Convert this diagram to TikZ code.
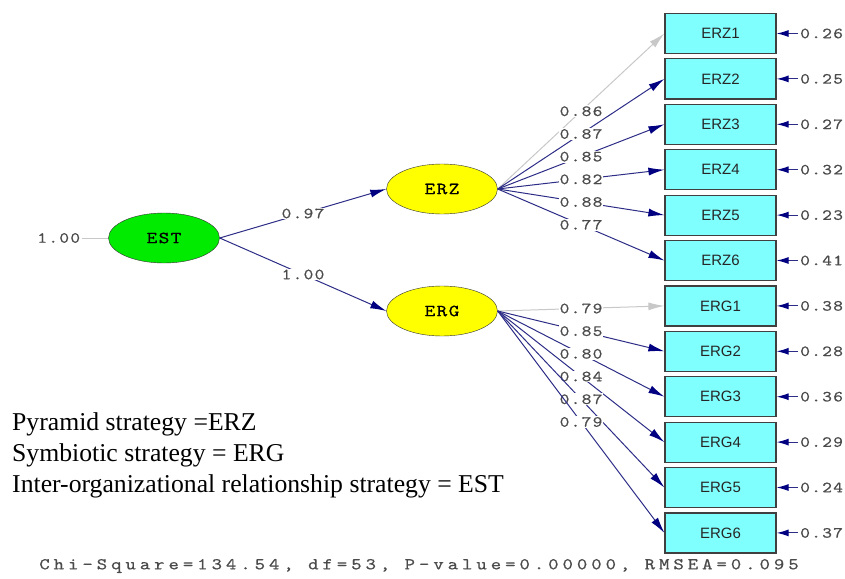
\documentclass[tikz,border=0pt]{standalone}
\usepackage{fontspec}
\setmainfont{Liberation Serif}
\setsansfont{Liberation Sans}
\newfontfamily\lisrel[FakeStretch=1.2,LetterSpace=8,FakeBold=0.6]{lmmono10-regular.otf}
\newfontfamily\lisrelwide[FakeStretch=1.2,LetterSpace=24,FakeBold=0.6]{lmmono10-regular.otf}
\usetikzlibrary{arrows.meta,shapes.geometric,positioning}

\definecolor{pathblue}{RGB}{45,45,135}
\definecolor{tipblue}{RGB}{0,0,128}
\definecolor{boxcyan}{RGB}{128,255,255}
\definecolor{latgreen}{RGB}{0,235,0}
\definecolor{latyellow}{RGB}{255,255,0}
\definecolor{fixgray}{RGB}{200,200,200}
\definecolor{numgray}{RGB}{75,75,75}

\begin{document}
\begin{tikzpicture}[
        x=1pt, y=-1pt,
        node distance=4.2pt and 21.4pt,
        latent/.style={ellipse, draw=black!80, minimum width=111pt, minimum height=50pt, inner sep=0pt, font=\lisrel\fontsize{17}{19}\selectfont},
        indicator/.style={rectangle, draw=black!75, line width=1.2pt, fill=boxcyan, minimum width=111pt, minimum height=40pt, inner sep=0pt, text=black!85, font=\sffamily\fontsize{15}{17}\selectfont},
        load/.style={draw=pathblue, line width=1pt, -{Latex[length=16pt,width=8pt,color=tipblue]}},
        fixed/.style={draw=fixgray, line width=1pt, -{Latex[length=16pt,width=8pt,color=fixgray]}},
        errpath/.style={draw=pathblue, line width=1.1pt, -{Latex[length=12pt,width=7pt,color=tipblue]}},
        coef/.style={fill=white, inner sep=1pt, text=numgray, font=\lisrel\fontsize{15.5}{17}\selectfont},
        err/.style={inner sep=2pt, text=numgray, font=\lisrel\fontsize{15.5}{17}\selectfont}
    ]
    \useasboundingbox (0,0) rectangle (845,578);

    % Latent variables
      \node[latent, fill=latgreen] (est) at (164,238) {EST};
      \node[latent, fill=latyellow] (erz) at (442,189) {ERZ};
      \node[latent, fill=latyellow] (erg) at (442,311) {ERG};
      \node[err, left=26pt of est] (estvar) {1.00};

    % Indicators
      \node[indicator] (z1) at (720.5,33.5) {ERZ1};
      \node[indicator, below=of z1] (z2) {ERZ2};
      \node[indicator, below=of z2] (z3) {ERZ3};
      \node[indicator, below=of z3] (z4) {ERZ4};
      \node[indicator, below=of z4] (z5) {ERZ5};
      \node[indicator, below=of z5] (z6) {ERZ6};
      \node[indicator, below=of z6] (g1) {ERG1};
      \node[indicator, below=of g1] (g2) {ERG2};
      \node[indicator, below=of g2] (g3) {ERG3};
      \node[indicator, below=of g3] (g4) {ERG4};
      \node[indicator, below=of g4] (g5) {ERG5};
      \node[indicator, below=of g5] (g6) {ERG6};

    % Error variances
      \node[err, right=of z1] (ez1) {0.26};
      \node[err, right=of z2] (ez2) {0.25};
      \node[err, right=of z3] (ez3) {0.27};
      \node[err, right=of z4] (ez4) {0.32};
      \node[err, right=of z5] (ez5) {0.23};
      \node[err, right=of z6] (ez6) {0.41};
      \node[err, right=of g1] (eg1) {0.38};
      \node[err, right=of g2] (eg2) {0.28};
      \node[err, right=of g3] (eg3) {0.36};
      \node[err, right=of g4] (eg4) {0.29};
      \node[err, right=of g5] (eg5) {0.24};
      \node[err, right=of g6] (eg6) {0.37};

    % Legend and fit
      \node[anchor=north west, align=left, inner sep=0pt, font=\fontsize{25.7}{31}\selectfont] (legend) at (12,412.5)
        {Pyramid strategy =ERZ\\Symbiotic strategy = ERG\\Inter-organizational relationship strategy = EST};
      \node[text=numgray, font=\lisrelwide\fontsize{16.5}{18}\selectfont] (fit) at (419,566)
        {Chi-Square=134.54, df=53, P-value=0.00000, RMSEA=0.095};

    \draw[draw=fixgray, line width=1pt] (estvar) -- (est);
    \draw[load] (est.east) -- node[coef] (pz) {0.97} (erz.west);
    \draw[load] (est.east) -- node[coef] (pg) {1.00} (erg.west);

    \draw[fixed] (erz.east) -- node[coef] (lz1) {0.86} (z1.west);
    \draw[load] (erz.east) -- node[coef] (lz2) {0.87} (z2.west);
    \draw[load] (erz.east) -- node[coef] (lz3) {0.85} (z3.west);
    \draw[load] (erz.east) -- node[coef] (lz4) {0.82} (z4.west);
    \draw[load] (erz.east) -- node[coef] (lz5) {0.88} (z5.west);
    \draw[load] (erz.east) -- node[coef] (lz6) {0.77} (z6.west);

    \draw[fixed] (erg.east) -- node[coef] (lg1) {0.79} (g1.west);
    \draw[load] (erg.east) -- node[coef] (lg2) {0.85} (g2.west);
    \draw[load] (erg.east) -- node[coef] (lg3) {0.80} (g3.west);
    \draw[load] (erg.east) -- node[coef] (lg4) {0.84} (g4.west);
    \draw[load] (erg.east) -- node[coef] (lg5) {0.87} (g5.west);
    \draw[load] (erg.east) -- node[coef] (lg6) {0.79} (g6.west);

    \draw[errpath] (ez1) -- (z1);
    \draw[errpath] (ez2) -- (z2);
    \draw[errpath] (ez3) -- (z3);
    \draw[errpath] (ez4) -- (z4);
    \draw[errpath] (ez5) -- (z5);
    \draw[errpath] (ez6) -- (z6);
    \draw[errpath] (eg1) -- (g1);
    \draw[errpath] (eg2) -- (g2);
    \draw[errpath] (eg3) -- (g3);
    \draw[errpath] (eg4) -- (g4);
    \draw[errpath] (eg5) -- (g5);
    \draw[errpath] (eg6) -- (g6);

\end{tikzpicture}
\end{document}
